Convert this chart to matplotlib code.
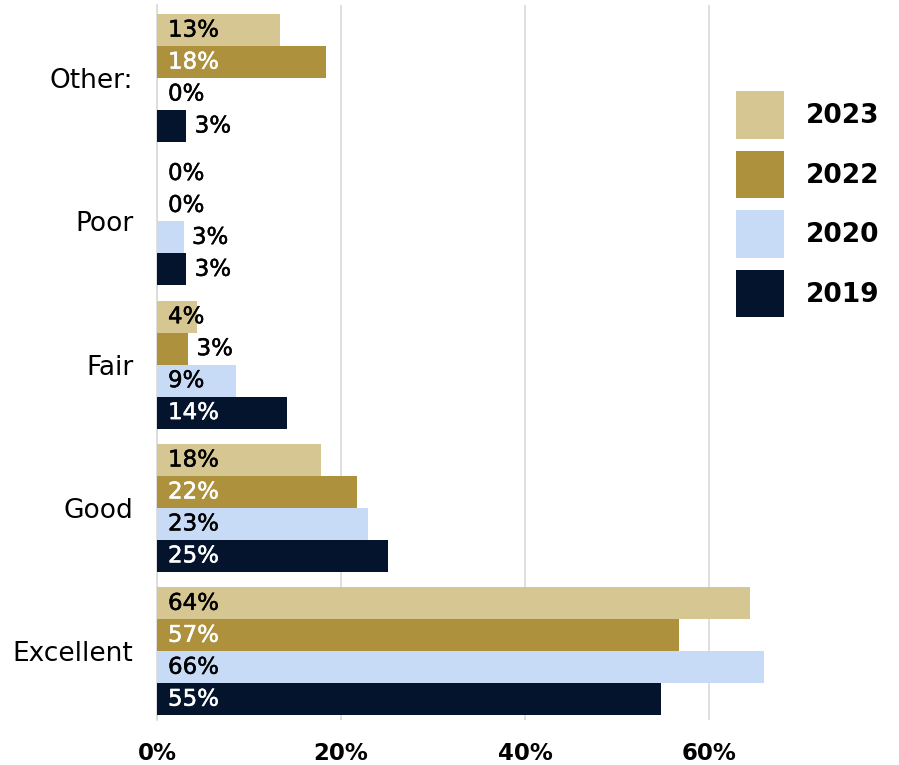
import matplotlib
matplotlib.use("Agg")
import matplotlib.pyplot as plt
import matplotlib.patheffects as pe
import numpy as np

plt.rcParams['font.family'] = ['DejaVu Sans']

categories = ["Excellent", "Good", "Fair", "Poor", "Other:"]
years = ["2023", "2022", "2020", "2019"]
values_2023 = [64.4, 17.8, 4.4, 0.0, 13.4]
values_2022 = [56.7, 21.7, 3.4, 0.0, 18.4]
values_2020 = [65.9, 22.9, 8.6, 2.9, 0.0]
values_2019 = [54.8, 25.1, 14.1, 3.2, 3.2]
series = [values_2023, values_2022, values_2020, values_2019]
colors = ["#D6C692", "#AD913D", "#C7DBF7", "#03142C"]
inside_text = ["#000000", "#FFFFFF", "#000000", "#FFFFFF"]
xticks = [0, 20, 40, 60]

fig = plt.figure(figsize=(8.99, 7.65), dpi=100)
ax = fig.add_axes([0.1746, 0.0588, 0.6964, 0.9347])

h = 0.223
y = np.arange(len(categories))
offsets = [1.5 * h, 0.5 * h, -0.5 * h, -1.5 * h]

for vals, col, tcol, off, yr in zip(series, colors, inside_text, offsets, years):
    ax.barh(y + off, vals, height=h, color=col, label=yr, zorder=3)
    for yi, v in zip(y, vals):
        label = f"{round(v):.0f}%"
        if v >= 4:
            x, c = 1.2, tcol
        elif v > 0:
            x, c = v + 0.9, "black"
        else:
            x, c = 1.2, "black"
        ax.text(x, yi + off, label, color=c, va="center", ha="left",
                fontsize=16.5, zorder=4,
                path_effects=[pe.withStroke(linewidth=0.35, foreground=c)])

ax.set_xlim(0, 68)
ax.set_ylim(-0.48, 4.51)
ax.set_yticks(y)
ax.set_yticklabels(categories, fontsize=19)
ax.set_xticks(xticks)
ax.set_xticklabels([f"{t}%" for t in xticks], fontsize=16.5, fontweight="bold")
ax.tick_params(axis="both", length=0)
ax.tick_params(axis="y", pad=17)
ax.tick_params(axis="x", pad=16)
ax.grid(axis="x", color="#D9D9D9", linewidth=1.2, zorder=0)
for s in ["top", "right", "bottom"]:
    ax.spines[s].set_visible(False)
ax.spines["left"].set_color("#D9D9D9")
ax.spines["left"].set_linewidth(1.2)

handles, labels = ax.get_legend_handles_labels()
leg = fig.legend(handles, labels, loc="upper left", bbox_to_anchor=(0.792, 0.912),
                 frameon=False, prop={"size": 19, "weight": "bold"},
                 handlelength=1.82, handleheight=2.4, handletextpad=0.82,
                 labelspacing=0.45)

fig.savefig("out.png", dpi=100)
